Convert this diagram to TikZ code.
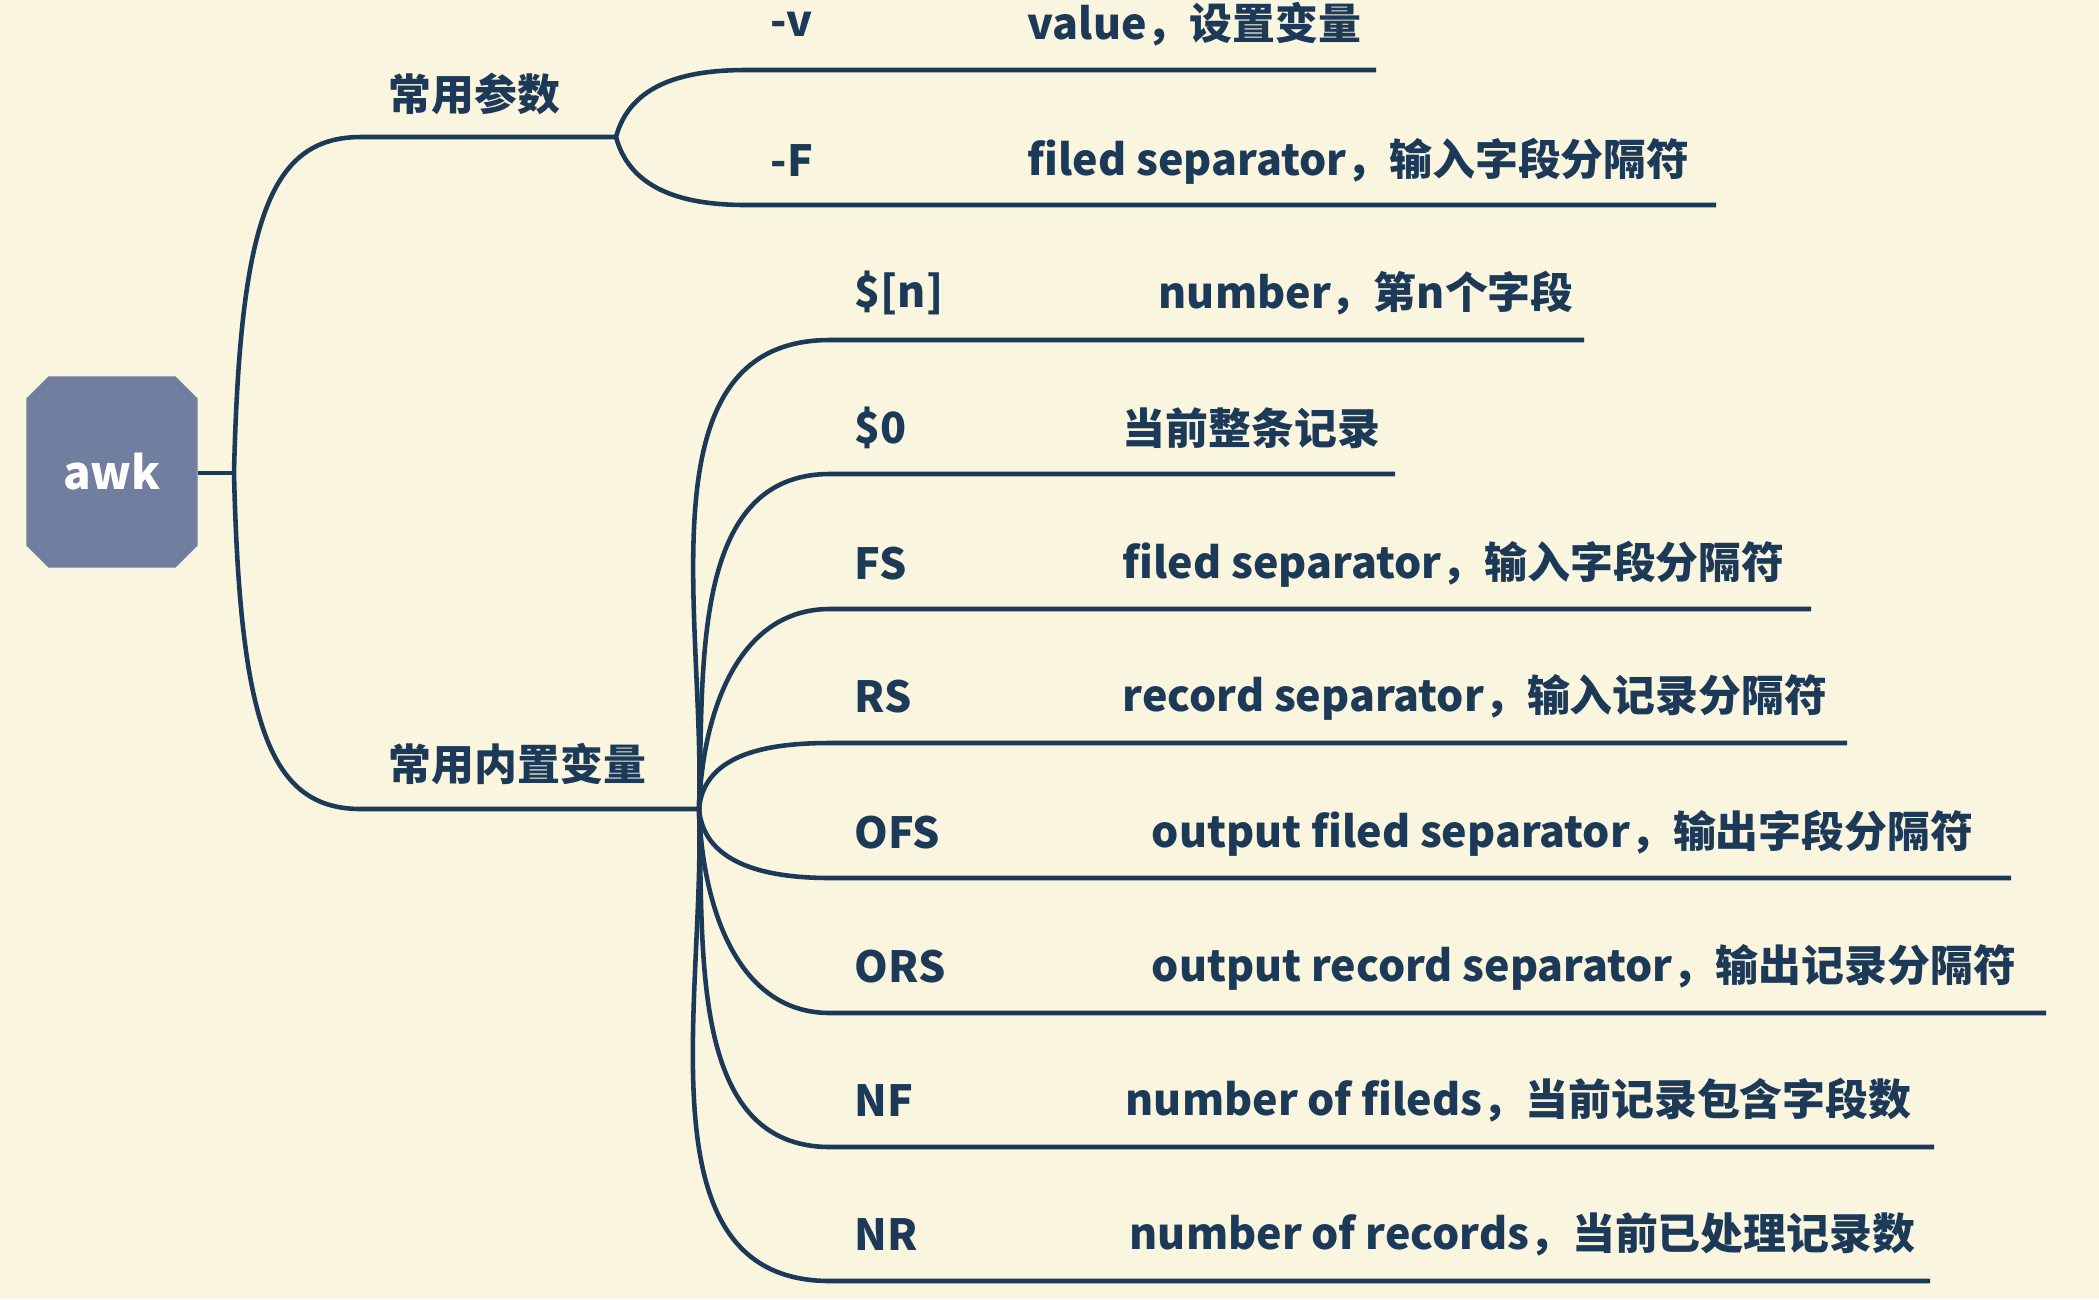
\documentclass[tikz,border=0pt]{standalone}
\usepackage{fontspec}
\setmainfont{Noto Sans CJK SC}
\usepackage{tikz}
\usetikzlibrary{shapes.misc}

\definecolor{paper}{RGB}{250,245,222}
\definecolor{ink}{RGB}{28,58,88}
\definecolor{rootfill}{RGB}{114,126,160}

\begin{document}
\begin{tikzpicture}[x=0.01cm, y=-0.01cm,
    branch/.style={draw=ink, line width=1.3pt},
    item/.style={anchor=west, inner sep=0pt, text=ink, font=\fontsize{12.2pt}{15pt}\selectfont\bfseries},
    topic/.style={item},
    rootbox/.style={chamfered rectangle, chamfered rectangle xsep=0.11cm, chamfered rectangle ysep=0.11cm,
      fill=rootfill, minimum width=1.71cm, minimum height=1.91cm, inner sep=0pt,
      text=white, font=\fontsize{13pt}{15pt}\selectfont\bfseries}]
      \fill[paper] (0,0) rectangle (2099,1299);
      \useasboundingbox (0,0) rectangle (2099,1299);

      % Root
      \node[rootbox] (awk) at (112,472) {awk};
      \coordinate (hub) at (234,473);
      \draw[branch] (awk.east |- hub) -- (hub);

      % Common parameters
      \node[topic] (params) at (388,94) {常用参数};
      \coordinate (params-s) at (361,137);
      \coordinate (params-f) at (616,137);
      \draw[branch] (hub) .. controls (240,220) and (270,137) .. (params-s) -- (params-f);

      \node[item] (optv) at (770,24) {-v};
      \node[item] (optv-d) at (1027,24) {value，设置变量};
      \coordinate (optv-s) at (746,70);
      \coordinate (optv-e) at (1376,70);
      \draw[branch] (params-f) to[out=75, in=180] (optv-s) -- (optv-e);

      \node[item] (optF) at (770,161) {-F};
      \node[item] (optF-d) at (1027,161) {filed separator，输入字段分隔符};
      \coordinate (optF-s) at (746,205);
      \coordinate (optF-e) at (1716,205);
      \draw[branch] (params-f) to[out=-75, in=180] (optF-s) -- (optF-e);

      % Built-in variables
      \node[topic] (vars) at (388,764) {常用内置变量};
      \coordinate (vars-s) at (361,809);
      \coordinate (vars-f) at (699,809);
      \draw[branch] (hub) .. controls (240,726) and (270,809) .. (vars-s) -- (vars-f);

      \node[item] (varn) at (854,293) {\$[n]};
      \node[item] (varn-d) at (1158,293) {number，第n个字段};
      \coordinate (varn-s) at (830,340);
      \coordinate (varn-e) at (1584,340);
      \draw[branch] (vars-f) to[out=88, in=180] (varn-s) -- (varn-e);

      \node[item] (var0) at (854,428) {\$0};
      \node[item] (var0-d) at (1122,428) {当前整条记录};
      \coordinate (var0-s) at (830,474);
      \coordinate (var0-e) at (1395,474);
      \draw[branch] (vars-f) to[out=88, in=180] (var0-s) -- (var0-e);

      \node[item] (varFS) at (854,564) {FS};
      \node[item] (varFS-d) at (1122,564) {filed separator，输入字段分隔符};
      \coordinate (varFS-s) at (830,609);
      \coordinate (varFS-e) at (1811,609);
      \draw[branch] (vars-f) to[out=88, in=180] (varFS-s) -- (varFS-e);

      \node[item] (varRS) at (854,697) {RS};
      \node[item] (varRS-d) at (1122,697) {record separator，输入记录分隔符};
      \coordinate (varRS-s) at (830,743);
      \coordinate (varRS-e) at (1847,743);
      \draw[branch] (vars-f) to[out=85, in=180] (varRS-s) -- (varRS-e);

      \node[item] (varOFS) at (854,833) {OFS};
      \node[item] (varOFS-d) at (1151,833) {output filed separator，输出字段分隔符};
      \coordinate (varOFS-s) at (830,878);
      \coordinate (varOFS-e) at (2011,878);
      \draw[branch] (vars-f) to[out=-85, in=180] (varOFS-s) -- (varOFS-e);

      \node[item] (varORS) at (854,967) {ORS};
      \node[item] (varORS-d) at (1151,967) {output record separator，输出记录分隔符};
      \coordinate (varORS-s) at (830,1013);
      \coordinate (varORS-e) at (2046,1013);
      \draw[branch] (vars-f) to[out=-88, in=180] (varORS-s) -- (varORS-e);

      \node[item] (varNF) at (854,1100) {NF};
      \node[item] (varNF-d) at (1125,1100) {number of fileds，当前记录包含字段数};
      \coordinate (varNF-s) at (830,1147);
      \coordinate (varNF-e) at (1934,1147);
      \draw[branch] (vars-f) to[out=-88, in=180] (varNF-s) -- (varNF-e);

      \node[item] (varNR) at (854,1234) {NR};
      \node[item] (varNR-d) at (1129,1234) {number of records，当前已处理记录数};
      \coordinate (varNR-s) at (830,1281);
      \coordinate (varNR-e) at (1930,1281);
      \draw[branch] (vars-f) to[out=-88, in=180] (varNR-s) -- (varNR-e);
    \end{tikzpicture}
\end{document}
